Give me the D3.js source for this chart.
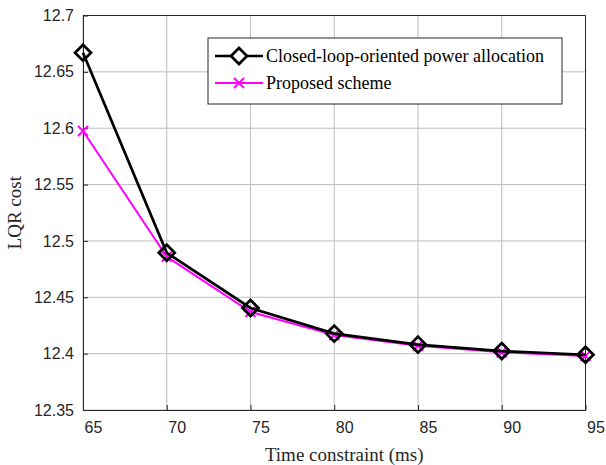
<!DOCTYPE html>
<meta charset="utf-8">
<script src="https://d3js.org/d3.v7.min.js"></script>
<html>
  <head>
    <style>
    body { margin: 0; background-color: white; }
    .tick text { font-family: "Liberation Sans", Arial, sans-serif; font-size: 16px; fill: #262626; }
    .lab { font-family: "Liberation Serif", "Times New Roman", serif; font-size: 19px; fill: #262626; }
    .leg { font-family: "Liberation Serif", "Times New Roman", serif; font-size: 18px; fill: #000; }
    </style>
  </head>
  <body>
    <div id="my_dataviz"></div>
  </body>
</html>

<script>

// data
var timeConstraint = [65, 70, 75, 80, 85, 90, 95];
var closedLoop = [12.667, 12.4895, 12.4405, 12.4178, 12.408, 12.4023, 12.399];
var proposed = [12.5975, 12.486, 12.437, 12.4165, 12.407, 12.4013, 12.398];
var xTicks = [65, 70, 75, 80, 85, 90, 95];
var yTicks = [12.35, 12.4, 12.45, 12.5, 12.55, 12.6, 12.65, 12.7];
var seriesNames = ["Closed-loop-oriented power allocation", "Proposed scheme"];

var margin = {top: 15.5, right: 20.5, bottom: 55, left: 83},
    width = 606 - margin.left - margin.right,
    height = 465 - margin.top - margin.bottom;

var svg = d3.select("#my_dataviz")
  .append("svg")
    .attr("width", 606)
    .attr("height", 465)
  .append("g")
    .attr("transform", "translate(" + margin.left + "," + margin.top + ")");

var x = d3.scaleLinear().domain([65, 95]).range([0, width]);
var y = d3.scaleLinear().domain([12.35, 12.7]).range([height, 0]);

// grid
svg.append("g").selectAll("line").data(xTicks).enter().append("line")
  .attr("x1", function(d){ return x(d); }).attr("x2", function(d){ return x(d); })
  .attr("y1", 0).attr("y2", height)
  .style("stroke", "#bdbdbd").style("stroke-width", 1);
svg.append("g").selectAll("line").data(yTicks).enter().append("line")
  .attr("y1", function(d){ return y(d); }).attr("y2", function(d){ return y(d); })
  .attr("x1", 0).attr("x2", width)
  .style("stroke", "#bdbdbd").style("stroke-width", 1);

// axes
var xAxis = svg.append("g")
  .attr("transform", "translate(0," + height + ")")
  .call(d3.axisBottom(x).tickValues(xTicks).tickSizeInner(-5).tickSizeOuter(0).tickPadding(12));
// the x tick labels sit a bit to the right of their ticks in the original
xAxis.selectAll(".tick text").attr("dx", 10);
var yAxis = svg.append("g")
  .call(d3.axisLeft(y).tickValues(yTicks).tickFormat(d3.format("")).tickSizeInner(-5).tickSizeOuter(0).tickPadding(9));
svg.selectAll(".domain, .tick line").style("stroke", "#262626");

// box
svg.append("path")
  .attr("d", "M0,0H" + width + "V" + height)
  .style("fill", "none").style("stroke", "#262626").style("stroke-width", 1);

// labels
svg.append("text").attr("class", "lab")
  .attr("text-anchor", "middle")
  .attr("x", width / 2 + 10).attr("y", height + 50.5)
  .text("Time constraint (ms)");
svg.append("text").attr("class", "lab")
  .attr("text-anchor", "middle")
  .attr("transform", "translate(" + (-62) + "," + (height / 2) + ") rotate(-90)")
  .text("LQR cost");

var line = d3.line()
  .x(function(d, i){ return x(timeConstraint[i]); })
  .y(function(d){ return y(d); });

// proposed scheme (magenta, crosses)
svg.append("path").datum(proposed)
  .attr("d", line)
  .style("fill", "none").style("stroke", "#ff00ff").style("stroke-width", 2);
var crossPath = function(cx, cy, s) {
  return "M" + (cx - s) + "," + (cy - s) + "L" + (cx + s) + "," + (cy + s) +
         "M" + (cx - s) + "," + (cy + s) + "L" + (cx + s) + "," + (cy - s);
};
svg.append("g").selectAll("path").data(proposed).enter().append("path")
  .attr("d", function(d, i){ return crossPath(x(timeConstraint[i]), y(d), 5); })
  .style("stroke", "#ff00ff").style("stroke-width", 2).style("fill", "none");

// closed-loop (black, diamonds)
svg.append("path").datum(closedLoop)
  .attr("d", line)
  .style("fill", "none").style("stroke", "black").style("stroke-width", 2.7);
var diamondPath = function(cx, cy, s) {
  return "M" + cx + "," + (cy - s) + "L" + (cx + s) + "," + cy + "L" + cx + "," + (cy + s) + "L" + (cx - s) + "," + cy + "Z";
};
svg.append("g").selectAll("path").data(closedLoop).enter().append("path")
  .attr("d", function(d, i){ return diamondPath(x(timeConstraint[i]), y(d), 8); })
  .style("stroke", "black").style("stroke-width", 2.7).style("fill", "none");

// legend
var lg = svg.append("g").attr("transform", "translate(" + (208 - margin.left) + "," + (38 - margin.top) + ")");
lg.append("rect").attr("width", 354).attr("height", 66)
  .style("fill", "white").style("stroke", "#262626").style("stroke-width", 1);
lg.append("line").attr("x1", 7).attr("x2", 55).attr("y1", 18).attr("y2", 18)
  .style("stroke", "black").style("stroke-width", 2.7);
lg.append("path").attr("d", diamondPath(31, 18, 8))
  .style("stroke", "black").style("stroke-width", 2.7).style("fill", "white");
lg.append("line").attr("x1", 7).attr("x2", 55).attr("y1", 45).attr("y2", 45)
  .style("stroke", "#ff00ff").style("stroke-width", 2);
lg.append("path").attr("d", crossPath(31, 45, 5))
  .style("stroke", "#ff00ff").style("stroke-width", 2);
lg.selectAll("text.leg").data(seriesNames).enter().append("text")
  .attr("class", "leg")
  .attr("x", 58).attr("y", function(d, i){ return 18 + i * 27; })
  .attr("dy", "0.35em")
  .text(function(d){ return d; });

</script>
